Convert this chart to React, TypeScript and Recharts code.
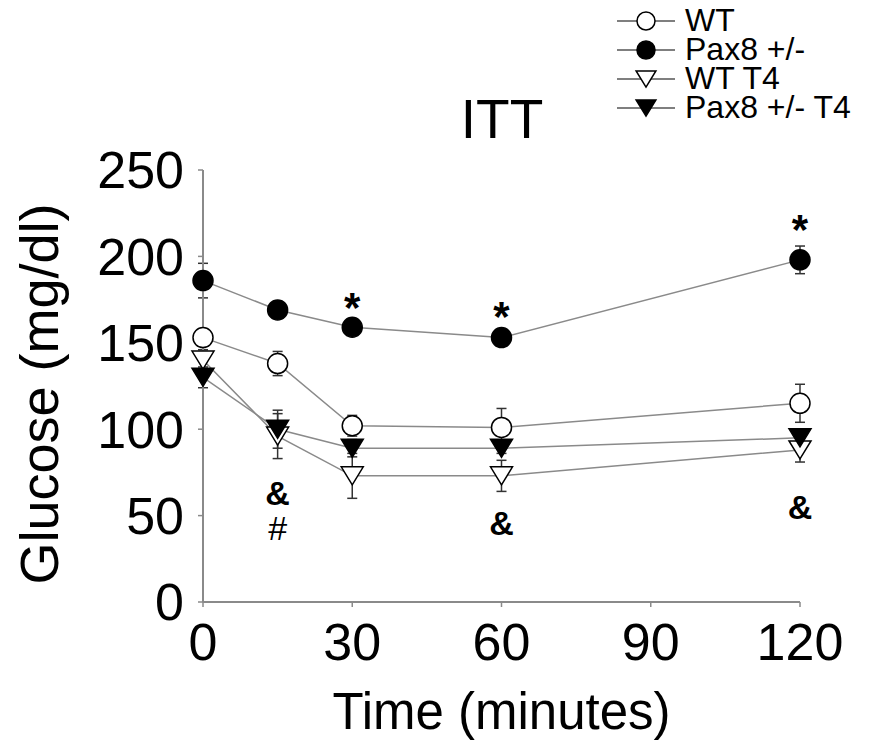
import { LineChart, Line, XAxis, YAxis, ErrorBar, ReferenceDot } from "recharts";

// time points (minutes)
const times = [0, 15, 30, 60, 120];

// glucose means and SEM per group
const wt = [153, 138, 102, 101, 115];
const wtErr = [5, 7, 6, 11, 11];
const pax = [186, 169, 159, 153, 198];
const paxErr = [10, 5, 3, 3, 8];
const wtT4 = [140, 96, 73, 73, 88];
const wtT4Err = [6, 13, 13, 9, 7];
const paxT4 = [130, 100, 89, 89, 95];
const paxT4Err = [6, 11, 5, 3, 4];

const xTicks = [0, 30, 60, 90, 120];
const yTicks = [0, 50, 100, 150, 200, 250];

// significance marks (text baseline in data units)
const markTimes = [30, 60, 120, 15, 15, 60, 120];
const markValues = [162, 157, 207, 56, 36, 39, 48];
const markTexts = ["*", "*", "*", "&", "#", "&", "&"];

const FONT = "'Liberation Sans', Arial, sans-serif";
const LINE = "#8a8a8a";

const data = times.map((t, i) => ({
  t,
  wt: wt[i],
  wtErr: wtErr[i],
  pax: pax[i],
  paxErr: paxErr[i],
  wtT4: wtT4[i],
  wtT4Err: wtT4Err[i],
  paxT4: paxT4[i],
  paxT4Err: paxT4Err[i]
}));

// marker shapes
function Marker({ kind, cx, cy, size = 10 }) {
  if (kind === "circle" || kind === "disc") {
    return (
      <circle
        cx={cx}
        cy={cy}
        r={size}
        fill={kind === "disc" ? "#000" : "#fff"}
        stroke="#000"
        strokeWidth={1.5}
      />
    );
  }
  const w = size * 1.1;
  const h = size * 0.9;
  const pts = `${cx - w},${cy - h} ${cx + w},${cy - h} ${cx},${cy + h}`;
  return (
    <polygon
      points={pts}
      fill={kind === "tri" ? "#000" : "#fff"}
      stroke="#000"
      strokeWidth={1.5}
    />
  );
}

const series = [
  { key: "wtT4", err: "wtT4Err", name: "WT T4", kind: "opentri" },
  { key: "paxT4", err: "paxT4Err", name: "Pax8 +/- T4", kind: "tri" },
  { key: "wt", err: "wtErr", name: "WT", kind: "circle" },
  { key: "pax", err: "paxErr", name: "Pax8 +/-", kind: "disc" }
];

const legendOrder = ["wt", "pax", "wtT4", "paxT4"];

export default function App() {
  return (
    <div
      style={{
        position: "absolute",
        left: 0,
        top: 0,
        width: 875,
        height: 741,
        background: "#fff",
        fontFamily: FONT
      }}
    >
      <LineChart
        width={875}
        height={741}
        data={data}
        margin={{ top: 170, right: 75, left: 0, bottom: 0 }}
      >
        <XAxis
          dataKey="t"
          type="number"
          domain={[0, 120]}
          ticks={xTicks}
          height={139}
          tickSize={5}
          tickMargin={16}
          axisLine={{ stroke: LINE, strokeWidth: 2 }}
          tickLine={{ stroke: LINE, strokeWidth: 1.5 }}
          tick={{ fill: "#000", fontSize: 52, fontFamily: FONT }}
          label={{
            value: "Time (minutes)",
            position: "insideBottom",
            offset: 12,
            fill: "#000",
            fontSize: 51,
            fontFamily: FONT
          }}
        />
        <YAxis
          type="number"
          domain={[0, 250]}
          ticks={yTicks}
          width={203}
          tickSize={5}
          tickMargin={14}
          axisLine={{ stroke: LINE, strokeWidth: 2 }}
          tickLine={{ stroke: LINE, strokeWidth: 1.5 }}
          tick={{ fill: "#000", fontSize: 52, fontFamily: FONT }}
          label={{
            content: (props) => {
              const vb = props.viewBox || { x: 0, y: 170, height: 432 };
              const x = vb.x + 58;
              const y = vb.y + vb.height / 2 + 8;
              return (
                <text
                  x={x}
                  y={y}
                  transform={`rotate(-90, ${x}, ${y})`}
                  textAnchor="middle"
                  fill="#000"
                  fontSize={54}
                  fontFamily={FONT}
                >
                  Glucose (mg/dl)
                </text>
              );
            }
          }}
        />
        {series.map(s => (
          <Line
            key={s.key}
            dataKey={s.key}
            name={s.name}
            type="linear"
            stroke={LINE}
            strokeWidth={1.5}
            isAnimationActive={false}
            activeDot={false}
            dot={(p) => (
              <Marker key={`${s.key}-${p.index}`} kind={s.kind} cx={p.cx} cy={p.cy} />
            )}
          >
            <ErrorBar
              dataKey={s.err}
              direction="y"
              width={5}
              stroke="#333"
              strokeWidth={1.5}
              isAnimationActive={false}
            />
          </Line>
        ))}
        {markTexts.map((txt, i) => (
          <ReferenceDot
            key={`m${i}`}
            x={markTimes[i]}
            y={markValues[i]}
            r={0}
            shape={(p) => (
              <text
                x={p.cx}
                y={p.cy}
                textAnchor="middle"
                fill="#000"
                fontSize={txt === "*" ? 42 : 34}
                fontWeight={txt === "#" ? "normal" : "bold"}
                fontFamily={FONT}
              >
                {txt}
              </text>
            )}
          />
        ))}
      </LineChart>

      {/* title */}
      <div
        style={{
          position: "absolute",
          left: 402,
          top: 92,
          width: 200,
          textAlign: "center",
          fontSize: 55,
          lineHeight: "55px"
        }}
      >
        ITT
      </div>

      {/* legend */}
      <div style={{ position: "absolute", left: 612, top: 6 }}>
        {legendOrder.map(k => {
          const s = series.find(x => x.key === k);
          return (
            <div
              key={k}
              style={{
                display: "flex",
                alignItems: "center",
                height: 29,
                fontSize: 32,
                lineHeight: "29px",
                whiteSpace: "nowrap"
              }}
            >
              <svg width={66} height={28} style={{ marginRight: 7 }}>
                <line x1={5} y1={14} x2={63} y2={14} stroke="#555" strokeWidth={1.5} />
                <Marker kind={s.kind} cx={34} cy={14} size={9} />
              </svg>
              <span>{s.name}</span>
            </div>
          );
        })}
      </div>
    </div>
  );
}
